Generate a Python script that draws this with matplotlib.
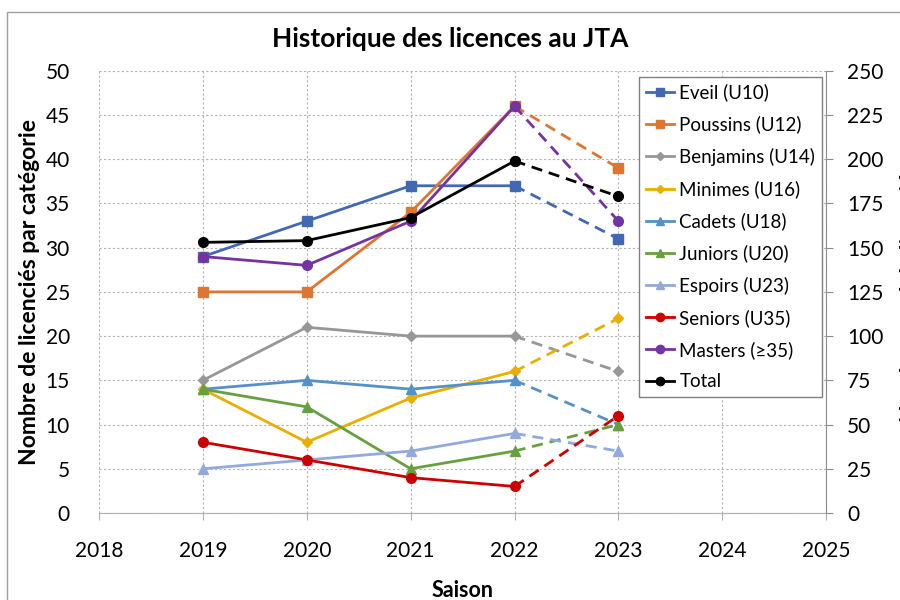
import matplotlib.pyplot as plt
from matplotlib.lines import Line2D
from matplotlib.patches import Rectangle

plt.rcParams['font.family'] = ['Lato', 'DejaVu Sans']

years = [2019, 2020, 2021, 2022, 2023]

eveil = [29, 33, 37, 37, 31]
poussins = [25, 25, 34, 46, 39]
benjamins = [15, 21, 20, 20, 16]
minimes = [14, 8, 13, 16, 22]
cadets = [14, 15, 14, 15, 10]
juniors = [14, 12, 5, 7, 10]
espoirs = [5, 6, 7, 9, 7]
seniors = [8, 6, 4, 3, 11]
masters = [29, 28, 33, 46, 33]
total = [153, 154, 167, 199, 179]

series = [
    ('Eveil (U10)', eveil, '#4169B3', 's', 6.5),
    ('Poussins (U12)', poussins, '#E0752F', 's', 6.5),
    ('Benjamins (U14)', benjamins, '#979797', 'D', 5),
    ('Minimes (U16)', minimes, '#E8AE00', 'D', 5.5),
    ('Cadets (U18)', cadets, '#5591C8', '^', 7),
    ('Juniors (U20)', juniors, '#68A040', '^', 7),
    ('Espoirs (U23)', espoirs, '#93A9DB', '^', 7),
    ('Seniors (U35)', seniors, '#CC0000', 'o', 7),
    ('Masters (≥35)', masters, '#7433A3', 'o', 7),
]

fig = plt.figure(figsize=(9, 6), dpi=100)
fig.patches.append(Rectangle((0.008, -0.05), 1.2, 1.03, transform=fig.transFigure,
                             fill=False, edgecolor='#a0a0a0', lw=1))
ax = fig.add_axes([0.11, 0.145, 0.808, 0.737])
ax2 = ax.twinx()

dash = (0, (4, 2.5))
handles = []
for name, vals, color, mk, ms in series:
    ax.plot(years[:4], vals[:4], color=color, lw=2, marker=mk, ms=ms, zorder=3)
    ax.plot(years[3:], vals[3:], color=color, lw=2, ls=dash, zorder=3)
    ax.plot(years[4:], vals[4:], color=color, marker=mk, ms=ms, ls='none', zorder=3)
    handles.append(Line2D([], [], color=color, lw=2, marker=mk, ms=ms - 1, label=name))

ax2.plot(years[:4], total[:4], color='black', lw=2, marker='o', ms=7, zorder=3)
ax2.plot(years[3:], total[3:], color='black', lw=2, ls=dash, marker='o', ms=7, zorder=3)
handles.append(Line2D([], [], color='black', lw=2, marker='o', ms=6, label='Total'))

ax.set_xlim(2018, 2025)
ax.set_ylim(0, 50)
ax2.set_ylim(0, 250)
ax.set_xticks(range(2018, 2026))
ax.set_yticks(range(0, 51, 5))
ax2.set_yticks(range(0, 251, 25))
ax.grid(True, color='#b4b4b4', ls=(0, (2, 2)), lw=0.8)
ax.set_axisbelow(True)

for a in (ax, ax2):
    for s in ('top', 'left'):
        a.spines[s].set_visible(False)
ax.spines['right'].set_visible(False)
ax.spines['bottom'].set_color('#b0b0b0')
ax2.spines['bottom'].set_visible(False)
ax2.spines['right'].set_color('#8c8c8c')

ax.tick_params(axis='y', length=0, labelsize=15, pad=21)
ax.tick_params(axis='x', length=5, color='#b0b0b0', labelsize=15, pad=15)
ax2.tick_params(axis='y', length=5, color='#8c8c8c', labelsize=15, pad=10)

ax.set_xlabel('Saison', fontsize=15.5, fontweight='bold', labelpad=14)
ax.set_ylabel('Nombre de licenciés par catégorie', fontsize=16.5, fontweight='bold', labelpad=4)
ax2.set_ylabel('Nombre total de licenciés', fontsize=16.5, fontweight='bold', labelpad=12)
fig.suptitle('Historique des licences au JTA', fontsize=19, fontweight='bold', y=0.955)

leg = ax.legend(handles=handles, loc='upper right', bbox_to_anchor=(0.994, 0.986),
                borderaxespad=0, fontsize=13.5, labelspacing=0.76, handlelength=1.5,
                handletextpad=0.3, borderpad=0.35, fancybox=False, framealpha=1,
                edgecolor='#808080')
leg.get_frame().set_linewidth(1)
leg.set_zorder(5)

fig.savefig('out.png', dpi=100)
